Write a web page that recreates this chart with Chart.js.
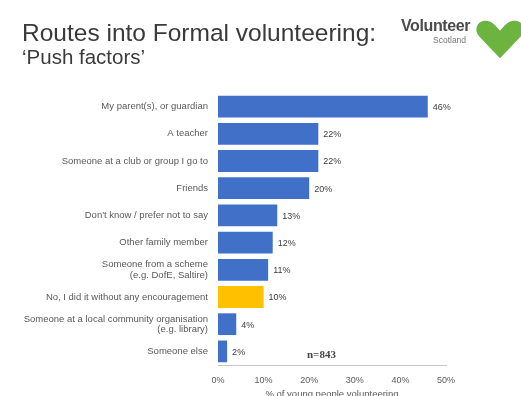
<!DOCTYPE html>
<html>
<head>
<meta charset="utf-8">
<script src="https://cdn.jsdelivr.net/npm/chart.js@4.4.0/dist/chart.umd.min.js"></script>
<style>
  body { margin: 0; background: #fff; font-family: "Liberation Sans", Arial, sans-serif; }
  #wrap { position: relative; width: 521px; height: 396px; overflow: hidden; }
  #chart { position: absolute; left: 0; top: 0; }
  .title { position: absolute; left: 22px; top: 19px; font-size: 24.5px; color: #3a3a3a; white-space: nowrap; }
  .sub { position: absolute; left: 22px; top: 45px; font-size: 20.5px; color: #3a3a3a; white-space: nowrap; }
  .logo1 { position: absolute; left: 401px; top: 17px; font-size: 16px; font-weight: bold; color: #4a4a4a; letter-spacing: -0.4px; }
  .logo2 { position: absolute; left: 433px; top: 35px; font-size: 8.5px; color: #777; }
  #heart { position: absolute; left: 474px; top: 18px; }
  .n { position: absolute; left: 307px; top: 348px; font-family: "Liberation Serif", serif; font-size: 11px; font-weight: bold; color: #444; }
</style>
</head>
<body>
<div id="wrap">
  <canvas id="chart" width="521" height="396"></canvas>
  <div class="title">Routes into Formal volunteering:</div>
  <div class="sub">‘Push factors’</div>
  <div class="logo1">Volunteer</div>
  <div class="logo2">Scotland</div>
  <svg id="heart" width="52" height="42" viewBox="0 0 62 46" preserveAspectRatio="none">
    <path d="M31 44 L6 20 C0 14 3 4 12 3 C20 2 26 8 31 14 C36 8 42 2 50 3 C59 4 62 14 56 20 Z" fill="#6cb33f"/>
  </svg>
  <div class="n">n=843</div>
</div>
<script>
// categories and values (% of young people volunteering)
const categories = [
    'My parent(s), or guardian',
    'A teacher',
    'Someone at a club or group I go to',
    'Friends',
    "Don't know / prefer not to say",
    'Other family member',
    ['Someone from a scheme', '(e.g. DofE, Saltire)'],
    'No, I did it without any encouragement',
    ['Someone at a local community organisation', '(e.g. library)'],
    'Someone else'
];
const values = [46, 22, 22, 20, 13, 12, 11, 10, 4, 2];
const barColors = ['#4070c8', '#4070c8', '#4070c8', '#4070c8', '#4070c8', '#4070c8', '#4070c8', '#ffc000', '#4070c8', '#4070c8'];
const xTicks = [0, 10, 20, 30, 40, 50];

const FONT = '"Liberation Sans", Arial, sans-serif';

// value labels at the bar ends
const valueLabels = {
    id: 'valueLabels',
    afterDatasetsDraw(chart) {
        const ctx = chart.ctx;
        const meta = chart.getDatasetMeta(0);
        ctx.save();
        ctx.font = '9px ' + FONT;
        ctx.fillStyle = '#404040';
        ctx.textBaseline = 'middle';
        meta.data.forEach(function (bar, i) {
            ctx.fillText(values[i] + '%', bar.x + 5, bar.y + 1);
        });
        ctx.restore();
    }
};

const ctx = document.getElementById('chart');
new Chart(ctx, {
    type: 'bar',
    data: {
        labels: categories,
        datasets: [{
            data: values,
            backgroundColor: barColors,
            barPercentage: 0.8,
            categoryPercentage: 1
        }]
    },
    options: {
        indexAxis: 'y',
        responsive: false,
        animation: false,
        layout: { padding: { top: 93, left: 4, right: 75, bottom: 0 } },
        plugins: {
            legend: { display: false },
            tooltip: { enabled: false }
        },
        scales: {
            x: {
                min: 0,
                max: 50,
                afterBuildTicks: function (s) { s.ticks = xTicks.map(v => ({ value: v })); },
                afterFit: function (s) { s.height = 31; },
                grid: { display: false },
                border: { display: true, color: '#c8c8c8', width: 1 },
                ticks: {
                    callback: v => v + '%',
                    font: { size: 9, family: FONT },
                    color: '#595959',
                    padding: 2
                },
                title: {
                    display: true,
                    text: '% of young people volunteering',
                    font: { size: 9.5, family: FONT, lineHeight: 0.3 },
                    color: '#595959',
                    padding: { top: 0, bottom: 0 }
                }
            },
            y: {
                afterFit: function (s) { s.width = 214; },
                grid: { display: false },
                border: { display: false },
                ticks: {
                    font: { size: 9.5, family: FONT, lineHeight: 1.1 },
                    color: '#595959',
                    padding: 2
                }
            }
        }
    },
    plugins: [valueLabels]
});
</script>
</body>
</html>
